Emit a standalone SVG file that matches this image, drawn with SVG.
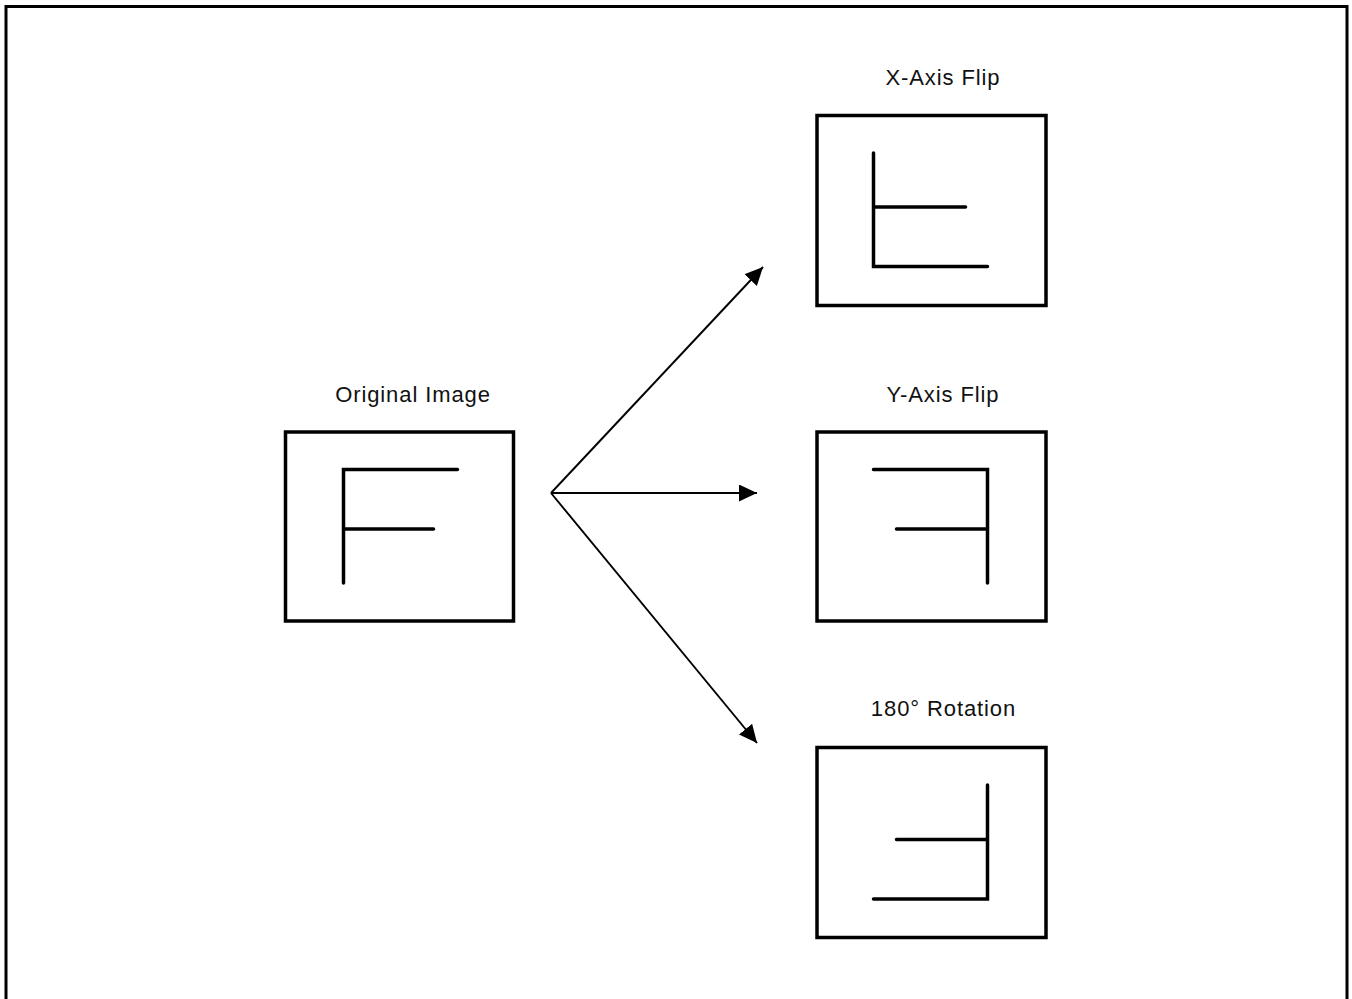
<svg xmlns="http://www.w3.org/2000/svg" width="1352" height="999" viewBox="0 0 1352 999">
<defs>
<style>
.frame{fill:none;stroke:#000;stroke-width:3}
.box{fill:#fff;stroke:#000;stroke-width:3.5}
.glyph{fill:none;stroke:#000;stroke-width:3.5;stroke-linecap:round;stroke-linejoin:miter}
.lbl{font-family:"Liberation Sans",Arial,sans-serif;font-size:22px;letter-spacing:0.9px;fill:#111;text-anchor:middle}
.conn{fill:none;stroke:#000;stroke-width:1.9}
</style>
<marker id="arr" viewBox="0 0 18 17" refX="18" refY="8.5" markerWidth="18" markerHeight="17" markerUnits="userSpaceOnUse" orient="auto">
<path d="M0,0 L18,8.5 L0,17 Z" fill="#000"/>
</marker>
</defs>
<rect x="0" y="0" width="1352" height="999" fill="#fff"/>
<rect class="frame" x="6" y="6.5" width="1341" height="1000"/>
<g id="original">
<text class="lbl" x="413" y="401.5">Original Image</text>
<rect class="box" x="285.5" y="432" width="228" height="189"/>
<path class="glyph" d="M343.5,583 V469.5 H457.5 M343.5,529 H433.5"/>
</g>
<g id="xflip">
<text class="lbl" x="943" y="85">X-Axis Flip</text>
<rect class="box" x="817" y="115.5" width="229" height="190"/>
<path class="glyph" d="M873.5,153 V266.5 H987.5 M873.5,207 H965.5"/>
</g>
<g id="yflip">
<text class="lbl" x="943" y="401.5">Y-Axis Flip</text>
<rect class="box" x="817" y="432" width="229" height="189"/>
<path class="glyph" d="M873.5,469.5 H987.5 V583 M896.5,529 H987.5"/>
</g>
<g id="rot180">
<text class="lbl" x="943.5" y="716">180° Rotation</text>
<rect class="box" x="817" y="747.5" width="229" height="190"/>
<path class="glyph" d="M987.5,785 V899 H873.5 M896.5,839.5 H987.5"/>
</g>
<g id="connectors">
<line class="conn" x1="551" y1="493" x2="763" y2="267" marker-end="url(#arr)"/>
<line class="conn" x1="551" y1="493" x2="757" y2="493" marker-end="url(#arr)"/>
<line class="conn" x1="551" y1="493" x2="757" y2="743" marker-end="url(#arr)"/>
</g>
</svg>
